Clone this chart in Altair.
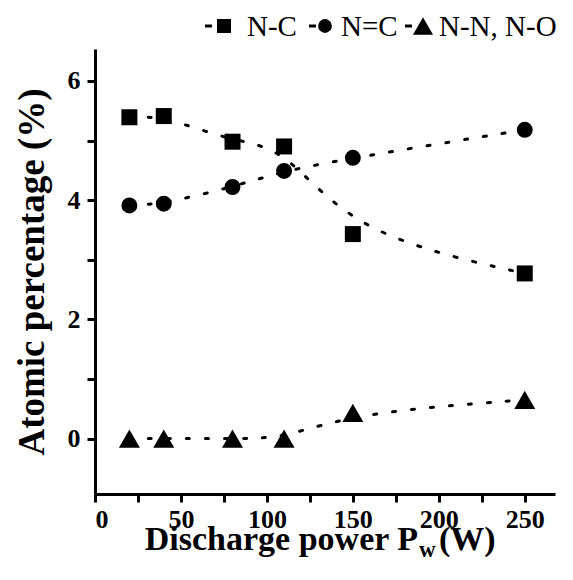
import altair as alt
import pandas as pd

# ---- data ----
power = [20, 40, 80, 110, 150, 250]
n_c = [5.39, 5.41, 4.98, 4.90, 3.43, 2.77]
n_dc = [3.91, 3.94, 4.22, 4.49, 4.71, 5.18]
n_n = [0.0, 0.0, 0.0, 0.0, 0.43, 0.65]
series = ["N-C", "N=C", "N-N, N-O"]
shapes = ["square", "circle", "triangle-up"]
sizes = [256, 254, 441]

x_ticks = [0, 25, 50, 75, 100, 125, 150, 175, 200, 225, 250]
y_ticks = [0, 1, 2, 3, 4, 5, 6]

x_title_main = ["Discharge power P"]
x_title_sub = ["w"]
x_title_unit = ["(W)"]
y_title = "Atomic percentage (%)"

W = 460
H = 445

# legend layout (pixels relative to plot area)
leg_y = -23
leg_dash_x = [110, 214, 310]
leg_sym_x = [129, 230, 328]
leg_sym_size = [196, 190, 400]
leg_text_x = [152, 246, 344]

rows = []
for name, vals in zip(series, [n_c, n_dc, n_n]):
    for p, v in zip(power, vals):
        rows.append({"power": p, "pct": v, "series": name})
df = pd.DataFrame(rows)

FONT = "Liberation Serif"

xscale = alt.Scale(domain=[0, 267.6], nice=False, zero=False)
yscale = alt.Scale(domain=[-0.93, 6.535], nice=False, zero=False)

axis_style = dict(
    grid=False,
    domainColor="black",
    domainWidth=3,
    tickColor="black",
    tickWidth=3,
    tickSize=8,
    labelFont=FONT,
    labelFontSize=26,
    labelFontWeight="bold",
    labelColor="black",
)

xenc = alt.X(
    "power:Q",
    scale=xscale,
    axis=alt.Axis(
        values=x_ticks,
        format="d",
        labelExpr="datum.value % 50 == 0 ? datum.label : ''",
        title=None,
        labelPadding=4,
        **axis_style,
    ),
)
yenc = alt.Y(
    "pct:Q",
    scale=yscale,
    axis=alt.Axis(
        values=y_ticks,
        format="d",
        labelExpr="datum.value % 2 == 0 ? datum.label : ''",
        title=y_title,
        titleFont=FONT,
        titleFontSize=37,
        titleFontWeight="bold",
        titleColor="black",
        titlePadding=16,
        labelPadding=7,
        **axis_style,
    ),
)

lines = (
    alt.Chart(df)
    .mark_line(
        interpolate="basis",
        strokeDash=[3, 16],
        strokeWidth=3,
        strokeCap="round",
        color="black",
    )
    .encode(x=xenc, y=yenc, detail="series:N")
)

layers = [lines]
for name, shp, sz in zip(series, shapes, sizes):
    layers.append(
        alt.Chart(df[df["series"] == name])
        .mark_point(filled=True, color="black", opacity=1, shape=shp, size=sz)
        .encode(x="power:Q", y="pct:Q")
    )

# legend: short dash + marker + label for each series
for name, shp, dx, sx, ssz, tx in zip(series, shapes, leg_dash_x, leg_sym_x,
                                      leg_sym_size, leg_text_x):
    one = pd.DataFrame({"t": [name]})
    layers.append(
        alt.Chart(one)
        .mark_rule(color="black", strokeWidth=3)
        .encode(x=alt.value(dx), x2=alt.value(dx + 7), y=alt.value(leg_y))
    )
    layers.append(
        alt.Chart(one)
        .mark_point(filled=True, color="black", opacity=1, shape=shp, size=ssz)
        .encode(x=alt.value(sx), y=alt.value(leg_y))
    )
    layers.append(
        alt.Chart(one)
        .mark_text(font=FONT, fontSize=29, align="left", baseline="alphabetic",
                   color="black")
        .encode(x=alt.value(tx), y=alt.value(leg_y + 10), text="t:N")
    )

layers.append(
    alt.Chart(pd.DataFrame({"t": x_title_main}))
    .mark_text(font=FONT, fontWeight="bold", fontSize=34, align="right",
               baseline="alphabetic", color="black")
    .encode(x=alt.value(W / 2 + 93), y=alt.value(H + 56), text="t:N")
)
layers.append(
    alt.Chart(pd.DataFrame({"t": x_title_sub}))
    .mark_text(font=FONT, fontWeight="bold", fontSize=23, align="left",
               baseline="alphabetic", color="black")
    .encode(x=alt.value(W / 2 + 94), y=alt.value(H + 63), text="t:N")
)
layers.append(
    alt.Chart(pd.DataFrame({"t": x_title_unit}))
    .mark_text(font=FONT, fontWeight="bold", fontSize=34, align="left",
               baseline="alphabetic", color="black")
    .encode(x=alt.value(W / 2 + 114), y=alt.value(H + 56), text="t:N")
)

chart = (
    alt.layer(*layers)
    .properties(width=W, height=H)
    .configure_view(stroke=None)
)

chart.save("out.html", embed_options={"renderer": "svg", "actions": False})
